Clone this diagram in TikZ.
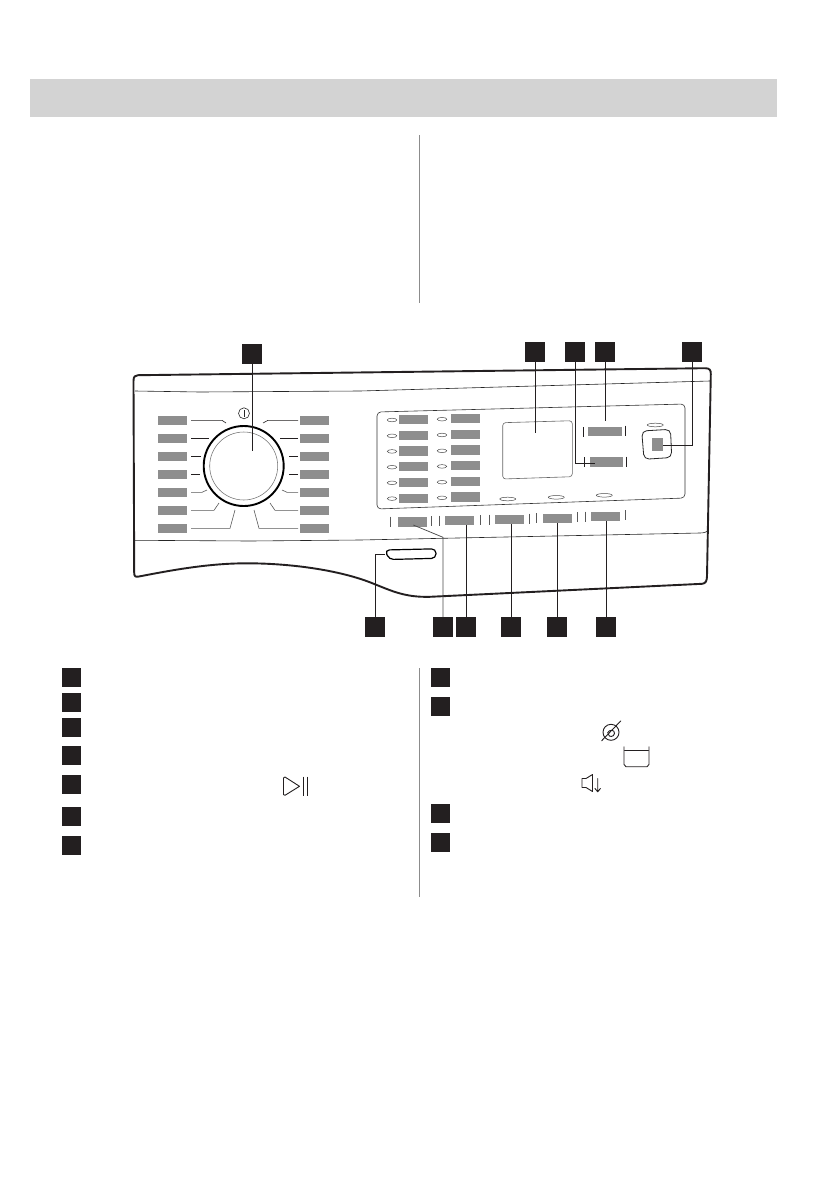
\documentclass[tikz,border=0pt]{standalone}
\tikzset{
  badge/.style={fill=badgeblack,draw=none,minimum size=20pt,inner sep=0pt,outer sep=0pt},
  keybadge/.style={fill=badgeblack,draw=none,minimum size=19pt,inner sep=0pt,outer sep=0pt},
  graylabel/.style={fill=labelgray,draw=none,minimum width=29pt,minimum height=9.3pt,inner sep=0pt,outer sep=0pt},
  leader/.style={draw=badgeblack,line width=0.75pt},
  tick/.style={draw=badgeblack,line width=0.6pt},
  softtick/.style={draw=black!65,line width=0.6pt},
  led/.style={draw=black!70,fill=white,line width=0.5pt,ellipse,minimum width=9.5pt,minimum height=3.6pt,inner sep=0pt},
  icon/.style={draw=badgeblack,line width=0.9pt,line join=round,line cap=round},
  sep/.style={draw=black!45,line width=0.8pt}
}
\definecolor{badgeblack}{HTML}{231F20}
\definecolor{labelgray}{HTML}{8E8E8E}
\definecolor{headgray}{HTML}{D3D3D3}
\usetikzlibrary{shapes.geometric}
\begin{document}
\begin{tikzpicture}[x=1pt,y=-1pt]
\useasboundingbox (0,0) rectangle (839,1191);
\fill[white] (0,0) rectangle (839,1191);
% header and separators
\fill[headgray] (30,79) rectangle (777,117);
\draw[sep] (419.3,135) -- (419.3,303);
\draw[sep] (419.3,668) -- (419.3,897);

% body
\draw[badgeblack,line width=1.9pt,line join=round]
  (139,576.5) .. controls (136,577) and (134.2,577) .. (134.2,573)
  -- (133.5,381) .. controls (133.5,376.5) and (135,375.3) .. (138,375.2)
  -- (705,368.2) .. controls (709.5,368.2) and (711,370) .. (710.8,374)
  -- (707,576) .. controls (706.8,581) and (706,583.4) .. (702,583.8)
  -- (430,596.8) .. controls (405,597.5) and (392,591) .. (373,583.5)
  .. controls (340,570) and (290,563.3) .. (247,563.3)
  .. controls (210,563.3) and (175,569.5) .. (139,576.5);
\draw[black!85,line width=0.6pt] (135,391) -- (200,392) -- (360,391) -- (710,381);
\draw[black!85,line width=0.6pt] (135,540.3) -- (250,541) -- (360,540) -- (700,533) .. controls (704,533) and (706,532) .. (708,531);

% dial
\node[circle,draw=black,line width=1.9pt,minimum size=80pt,inner sep=0pt] (dial) at (243.7,466) {};
\node[circle,draw=black!55,line width=0.55pt,minimum size=68pt,inner sep=0pt] (dialinner) at (243.7,466) {};
\node[circle,draw=black!85,line width=0.6pt,minimum size=11pt,inner sep=0pt] (power) at (244,413.3) {};
\draw[black!85,line width=0.6pt] (244,410) -- (244,416.6);

% program labels round the dial
\foreach \i/\y in {1/420.6,2/438.6,3/456.6,4/474.6,5/492.6,6/510.6,7/528.6}{
  \node[graylabel] (pl\i) at (172.5,\y) {};
  \node[graylabel] (pr\i) at (314.5,\y) {};
}
\draw[tick] (191,420.3) -- (222,420.3) -- (226,423);
\draw[tick] (191,438.3) -- (209,438.3);
\draw[tick] (191,456.3) -- (201,456.3);
\draw[tick] (191,474.3) -- (200,474.3);
\draw[softtick] (191,492.3) -- (202,492.3) -- (207,490);
\draw[softtick] (191,510.3) -- (214,510.3) -- (219,503);
\draw[softtick] (191,528.3) -- (230,528.3) -- (235,510);
\draw[tick] (298,420.3) -- (268,420.3) -- (263,423);
\draw[tick] (298,438.3) -- (280,438.3);
\draw[tick] (298,456.3) -- (289,456.3);
\draw[tick] (298,474.3) -- (289,474.3);
\draw[softtick] (298,492.3) -- (287,492.3) -- (282,490);
\draw[softtick] (298,510.3) -- (275,510.3) -- (270,503);
\draw[softtick] (298,528.3) -- (259,528.3) -- (254,510);

% control panel
\draw[black!80,line width=0.6pt,rounded corners=4pt] (377,412) -- (685,404) -- (685,498) -- (377,509) -- cycle;
\foreach \i/\y in {1/419.6,2/435.4,3/451,4/466.8,5/482.4,6/498.2}{
  \node[graylabel] (ca\i) at (413.5,\y) {};
  \node[led] (la\i) at (392,\y+0.4) {};
}
\foreach \i/\y in {1/418.4,2/434.2,3/450,4/465.6,5/481.4,6/497}{
  \node[graylabel] (cb\i) at (465.5,\y) {};
  \node[led] (lb\i) at (442,\y+0.8) {};
}
\draw[black!60,line width=0.6pt,rounded corners=3pt] (502.7,422.7) -- (572.3,420.7) -- (572.3,476.7) -- (502.7,479) -- cycle;
\node[graylabel,minimum width=34pt] (r1) at (605,431.8) {};
\node[graylabel,minimum width=33.5pt] (r2) at (606.7,462) {};
\draw[tick] (583.7,427) -- (583.7,437);
\draw[tick] (625.7,425.5) -- (625.7,435.5);
\draw[tick] (584.7,457) -- (584.7,467);
\draw[tick] (626.3,456.5) -- (626.3,466.5);
\draw[black!85,line width=0.8pt,rounded corners=5pt] (641.7,431) -- (670.5,429.3) -- (671.7,457.5) -- (644,459.3) -- cycle;
\node[fill=labelgray,minimum width=11.6pt,minimum height=12.4pt,inner sep=0pt] (sq) at (657.5,444.5) {};
\node[led,minimum width=16pt] (l1) at (655.3,425) {};
\node[led,minimum width=16pt] (l2) at (507.7,499) {};
\node[led,minimum width=16pt] (l3) at (556.3,497.3) {};
\node[led,minimum width=16pt] (l4) at (604.3,495.3) {};

% lower buttons
\node[graylabel] (b1) at (412,522) {};
\node[graylabel] (b2) at (459.7,520.7) {};
\node[graylabel] (b3) at (509.5,519.7) {};
\node[graylabel] (b4) at (557.7,518.4) {};
\node[graylabel] (b5) at (605,516.4) {};
\foreach \x/\y in {390.7/521.5,431.3/521,439.3/520.5,480/520,489/519.5,529.3/518.5,536.7/518,577.3/517,585.3/516.5,625.3/515}{
  \draw[softtick] (\x,\y-5) -- (\x,\y+5);
}
% slot
\draw[black,line width=1.2pt,rounded corners=4.5pt] (385,550) -- (436,548.8) -- (436,558.3) -- (389,559.5) -- cycle;

% callout badges
\node[badge] (n1) at (252,354) {};
\node[badge] (n2) at (535,352) {};
\node[badge] (n3) at (575,352) {};
\node[badge] (n4) at (605,352) {};
\node[badge] (n5) at (692,352) {};
\node[badge] (n6) at (375,627) {};
\node[badge] (n7) at (443,627) {};
\node[badge] (n8) at (466,627) {};
\node[badge] (n9) at (511,627) {};
\node[badge] (n10) at (557,627) {};
\node[badge] (n11) at (606,627) {};
\coordinate (e1) at (252,450.7);
\coordinate (e2) at (535,432.7);
\coordinate (e3a) at (575,463.3);
\coordinate (e3) at (595,463.3);
\coordinate (e4) at (605,420.7);
\coordinate (e5a) at (692,445);
\coordinate (e5) at (663.3,445);
\coordinate (e6a) at (375,554);
\coordinate (e6) at (385,554);
\coordinate (e7a) at (443,537.3);
\coordinate (e7) at (413.3,525);
\coordinate (e8) at (466,525);
\coordinate (e9) at (511,524);
\coordinate (e10) at (557,523);
\coordinate (e11) at (606,521);
\draw[leader] (n1) -- (e1);
\draw[leader] (n2) -- (e2);
\draw[leader] (n3) -- (e3a) -- (e3);
\draw[leader] (n4) -- (e4);
\draw[leader] (n5) -- (e5a) -- (e5);
\draw[leader] (n6) -- (e6a) -- (e6);
\draw[leader,draw=black!70] (n7) -- (e7a) -- (e7);
\draw[leader] (n8) -- (e8);
\draw[leader] (n9) -- (e9);
\draw[leader] (n10) -- (e10);
\draw[leader] (n11) -- (e11);

% key badges
\foreach \i/\y in {1/677.5,2/702.5,3/727,4/755.5,5/784.5,6/816.5,7/845}{
  \node[keybadge] (ka\i) at (71.5,\y) {};
}
\foreach \i/\y in {1/677.5,2/706.5,3/813.5,4/842.5}{
  \node[keybadge] (kb\i) at (440.5,\y) {};
}

% icons
\draw[icon] (283.5,778) -- (283.5,794.5) -- (285,795.3) -- (299.5,786.3) -- (285,777) -- cycle;
\draw[badgeblack,line width=0.6pt] (303.3,776.7) -- (303.3,795.7) (307.7,776.7) -- (307.7,795.7);
\draw[icon] (611,732.3) circle (8);
\draw[icon] (601.7,740.7) -- (620.7,721);
\draw[icon] (607.5,733) .. controls (609,729) and (615,729.5) .. (614.5,733.5) .. controls (614,737) and (609,737.5) .. (608.5,734.5);
\draw[icon] (624,746.7) -- (624,764.5) -- (626,766.7) -- (647,766.7) -- (649,764.5) -- (649,746.7);
\draw[icon] (624.5,750) -- (648.5,750);
\draw[icon] (582,778.5) -- (586,778.5) -- (592.5,774.5) -- (592.5,791.5) -- (586,787.5) -- (582,787.5) -- cycle;
\draw[icon] (597.7,778.5) -- (597.7,791.5) (595,788.5) -- (597.7,791.8) -- (600.4,788.5);
\end{tikzpicture}
\end{document}
